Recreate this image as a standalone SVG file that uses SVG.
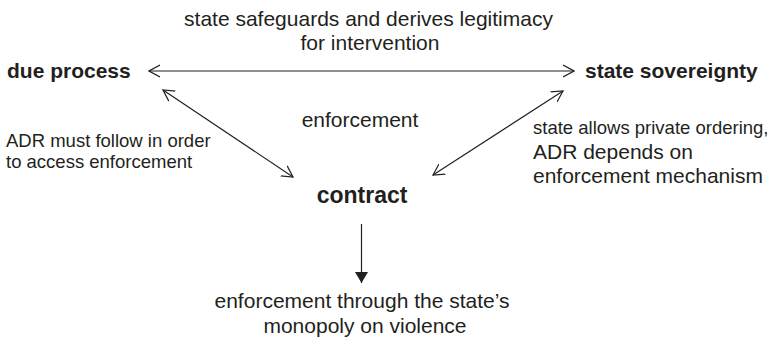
<svg xmlns="http://www.w3.org/2000/svg" width="770" height="339" viewBox="0 0 770 339">
<defs>
<style>
text{font-family:"Liberation Sans",Arial,Helvetica,sans-serif;fill:#231f20}
.b{font-weight:bold;font-size:21px}
.m{font-size:21px}
.s{font-size:18.5px}
.c{text-anchor:middle}
.ln{stroke:#231f20;stroke-width:1.2;fill:none}
</style>
<marker id="open" markerUnits="userSpaceOnUse" viewBox="0 0 12 14" refX="11" refY="7" markerWidth="12" markerHeight="14" orient="auto-start-reverse">
<path d="M0,1 L11,7 L0,13" fill="none" stroke="#231f20" stroke-width="1.2"/>
</marker>
<marker id="solid" markerUnits="userSpaceOnUse" viewBox="0 0 12 14" refX="11" refY="7" markerWidth="12" markerHeight="14" orient="auto">
<path d="M0,0.5 L11,7 L0,13.5 Z" fill="#231f20"/>
</marker>
</defs>
<rect width="770" height="339" fill="#ffffff"/>
<g id="connectors">
<line class="ln" x1="149" y1="71" x2="574" y2="71" marker-start="url(#open)" marker-end="url(#open)"/>
<line class="ln" x1="163" y1="90" x2="293" y2="177" marker-start="url(#open)" marker-end="url(#open)"/>
<line class="ln" x1="563" y1="91" x2="433" y2="175" marker-start="url(#open)" marker-end="url(#open)"/>
<line class="ln" x1="361.5" y1="224" x2="361.5" y2="283" marker-end="url(#solid)"/>
</g>
<g id="label-top">
<text class="m c" x="368.5" y="26">state safeguards and derives legitimacy</text>
<text class="m c" x="370" y="50">for intervention</text>
</g>
<g id="node-due-process">
<text class="b" x="7" y="78">due process</text>
</g>
<g id="node-state-sovereignty">
<text class="b" x="585" y="78">state sovereignty</text>
</g>
<g id="label-enforcement">
<text class="m c" x="360" y="127">enforcement</text>
</g>
<g id="label-left">
<text class="s" x="6" y="147">ADR must follow in order</text>
<text class="s" x="6" y="168">to access enforcement</text>
</g>
<g id="label-right">
<text class="s" x="533" y="134">state allows private ordering,</text>
<text class="m" x="533" y="159">ADR depends on</text>
<text class="m" x="533" y="183">enforcement mechanism</text>
</g>
<g id="node-contract">
<text class="b c" x="362" y="203" style="font-size:23px">contract</text>
</g>
<g id="node-enforcement-state">
<text class="m c" x="362" y="308">enforcement through the state’s</text>
<text class="m c" x="365" y="333">monopoly on violence</text>
</g>
</svg>
